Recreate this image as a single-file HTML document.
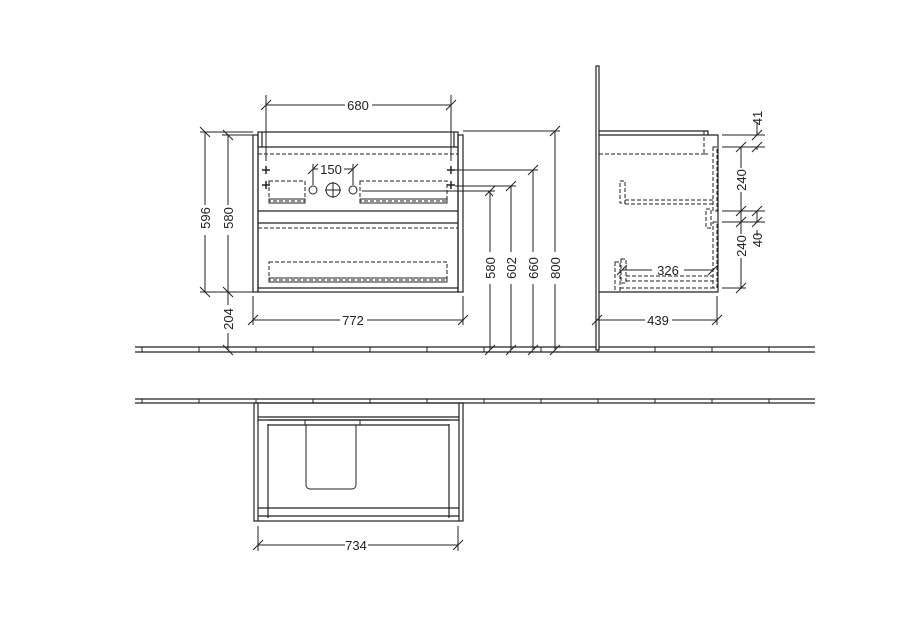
<!DOCTYPE html>
<html><head><style>body{margin:0;background:#fff}svg{display:block}text{font-family:"Liberation Sans",sans-serif;font-size:13px;fill:#222;stroke:none}</style></head><body>
<svg width="902" height="630" viewBox="0 0 902 630" xmlns="http://www.w3.org/2000/svg" stroke="#222" fill="none" stroke-width="1">
<!-- floors -->
<g stroke-width="1.2">
<path d="M135 347H815M135 352H815"/>
<path d="M135 399H815M135 403H815"/>
</g>
<g>
<path d="M142 347v5M199 347v5M256 347v5M313 347v5M370 347v5M427 347v5M484 347v5M541 347v5M598 347v5M655 347v5M712 347v5M769 347v5"/>
<path d="M142 399v4M199 399v4M256 399v4M313 399v4M370 399v4M427 399v4M484 399v4M541 399v4M598 399v4M655 399v4M712 399v4M769 399v4"/>
</g>
<path d="M145 350h50M202 350h50M259 350h50M316 350h50M373 350h50M430 350h50M487 350h50M544 350h50M601 350h50M658 350h50M715 350h50M772 350h40" stroke="#fff" stroke-width="2"/>
<path d="M145 401h50M202 401h50M316 401h50M373 401h50M430 401h50M487 401h50M544 401h50M601 401h50M658 401h50M715 401h50M772 401h40" stroke="#fff" stroke-width="1.5"/>
<!-- front view -->
<g stroke-width="1.2">
<rect x="253" y="135" width="5" height="157"/>
<rect x="458" y="135" width="5" height="157"/>
<rect x="258" y="132" width="200" height="160"/>
<path d="M258 147H458M258 211H458M258 223H458M258 288H458"/>
<path d="M262 132v15M454 132v15"/>
</g>
<g stroke-dasharray="4,2">
<path d="M258 154H458M258 228H458"/>
<rect x="269" y="181" width="36" height="20"/>
<rect x="360" y="181" width="87" height="20"/>
<rect x="269" y="262" width="178" height="18"/>
</g>
<rect x="269" y="199" width="36" height="4"/>
<rect x="360" y="199" width="87" height="4"/>
<rect x="269" y="278" width="178" height="4"/>
<circle cx="313" cy="190" r="4"/><circle cx="353" cy="190" r="4"/><circle cx="333" cy="190" r="7"/>
<path d="M325 190h16M333 182v16"/>
<path d="M262 170h8M266 166v8M262 185h8M266 181v8M447 170h8M451 166v8M447 185h8M451 181v8" stroke-width="1.5"/>
<!-- 680 -->
<path d="M266 95V161M451 95V161M266 105H345M372 105H451M261 110l10-10M446 110l10-10"/>
<text x="358" y="110" text-anchor="middle">680</text>
<!-- 150 -->
<path d="M313 164V185M353 164V185M313 169h5M344 169h9M308 174l10-10M348 174l10-10"/>
<text x="331" y="174" text-anchor="middle">150</text>
<!-- left dims -->
<path d="M200 132H253M222 135H253M200 292H253M205 132V205M205 235V292M228 135V205M228 235V292M228 292V305M228 333V350"/>
<path d="M200 127l10 10M223 130l10 10M200 287l10 10M223 287l10 10M223 345l10 10"/>
<text transform="translate(210 218) rotate(-90)" text-anchor="middle">596</text>
<text transform="translate(233 218) rotate(-90)" text-anchor="middle">580</text>
<text transform="translate(233 319) rotate(-90)" text-anchor="middle">204</text>
<!-- 772 -->
<path d="M253 296V325M463 296V325M253 320H340M367 320H463M248 325l10-10M458 325l10-10"/>
<text x="353" y="325" text-anchor="middle">772</text>
<!-- right dims -->
<path d="M463 131H560M455 170H538M455 186H516M362 191H495M488 191l5 5"/>
<path d="M555 131V252M555 284V350M533 170V252M533 284V350M511 186V252M511 284V350M490 191V252M490 284V350"/>
<path d="M550 136l10-10M528 175l10-10M506 191l10-10M485 196l10-10M550 355l10-10M528 355l10-10M506 355l10-10M485 355l10-10"/>
<text transform="translate(560 268) rotate(-90)" text-anchor="middle">800</text>
<text transform="translate(538 268) rotate(-90)" text-anchor="middle">660</text>
<text transform="translate(516 268) rotate(-90)" text-anchor="middle">602</text>
<text transform="translate(495 268) rotate(-90)" text-anchor="middle">580</text>
<!-- side view -->
<rect x="596" y="66" width="3" height="284" fill="#fff" stroke-width="1.2"/>
<g stroke-width="1.2">
<path d="M599 131H708V135M599 135H718V292H599"/>
</g>
<g stroke-dasharray="4,2">
<path d="M599 154H708M704 131V154H708"/>
<path d="M713 147h4v64h-4zM713 222h4v66h-4z"/>
<rect x="620" y="181" width="5" height="22"/>
<path d="M625 200H713M625 204H713"/>
<rect x="706" y="209" width="5" height="19"/>
<rect x="615" y="262" width="5" height="30"/>
<rect x="621" y="259" width="5" height="24"/>
<path d="M626 276H713M626 281H713M620 288H713"/>
</g>
<path d="M622 270H652M684 270H713M617 275l10-10M708 275l10-10"/>
<text x="668" y="275" text-anchor="middle">326</text>
<!-- side right dims -->
<path d="M722 135H765M722 147H765M722 211H765M722 222H765M722 288H746"/>
<path d="M741 147V168M741 192V234M741 258V288M757 122V135M757 147V150M757 211V222M757 230V236"/>
<path d="M736 152l10-10M736 216l10-10M736 227l10-10M736 293l10-10M752 140l10-10M752 152l10-10M752 216l10-10M752 227l10-10"/>
<text transform="translate(746 180) rotate(-90)" text-anchor="middle">240</text>
<text transform="translate(746 246) rotate(-90)" text-anchor="middle">240</text>
<text transform="translate(762 118) rotate(-90)" text-anchor="middle">41</text>
<text transform="translate(762 240) rotate(-90)" text-anchor="middle">40</text>
<!-- 439 -->
<path d="M717 296V325M597 320H645M672 320H717M592 325l10-10M712 325l10-10"/>
<text x="658" y="325" text-anchor="middle">439</text>
<!-- plan view -->
<g stroke-width="1.2">
<rect x="254" y="403" width="209" height="118"/>
<path d="M258 403V521M459 403V521M258 417H459M258 420H459M258 516H459M258 508H459"/>
<path d="M268 424V518M449 424V518M268 425H449M269 420h180"/>
</g>
<path d="M306 425V485a4 4 0 0 0 4 4h42a4 4 0 0 0 4-4V425M360 420v5M305 420v5"/>
<!-- 734 -->
<path d="M258 526V551M458 526V551M258 545H345M368 545H458M253 550l10-10M453 550l10-10"/>
<text x="356" y="550" text-anchor="middle">734</text>
</svg>
</body></html>
